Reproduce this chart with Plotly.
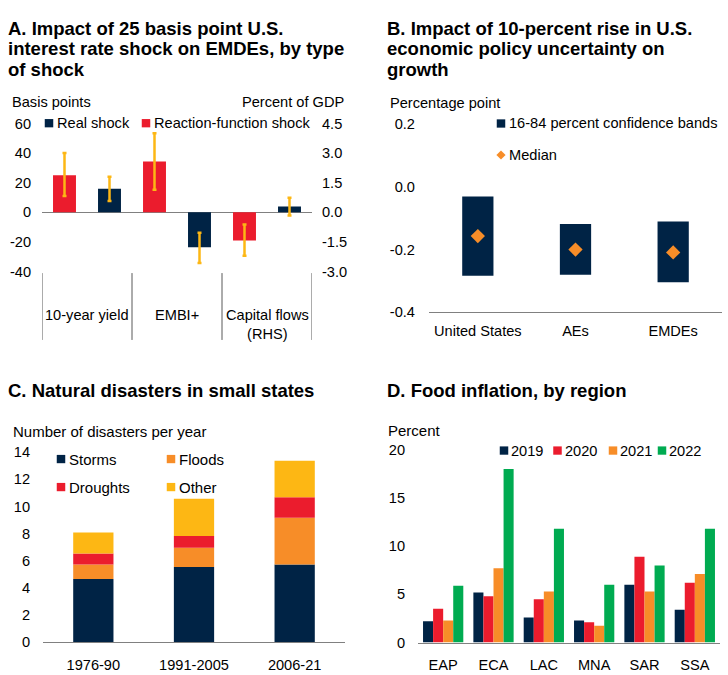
import numpy as np
import plotly.graph_objects as go

W, H = 728, 675
FONT = "Liberation Sans, Arial, sans-serif"
NAVY = "#002345"
RED = "#EB1C2D"
ORANGE = "#F78D28"
YELLOW = "#FDB714"
GREEN = "#00AB51"
GRAY = "#808080"
TXT = "#000000"
FS = 14.6


def px(x):
    return x / W


def py(y):
    return 1 - y / H


# ---------------- Panel A data ----------------
shock_categories = ["10-year yield", "EMBI+", "Capital flows<br>(RHS)"]
reaction_shock = [25.0, 34.4, -1.42]
reaction_hi = [40.0, 53.4, -0.61]
reaction_lo = [11.0, 15.2, -2.20]
real_shock = [16.0, -23.6, 0.30]
real_hi = [24.0, -13.7, 0.74]
real_lo = [7.7, -34.2, -0.16]
a_left_ticks = [60, 40, 20, 0, -20, -40]
a_left_text = ["60", "40", "20", "0", "-20", "-40"]
a_right_ticks = [4.5, 3.0, 1.5, 0.0, -1.5, -3.0]
a_right_text = ["4.5", "3.0", "1.5", "0.0", "-1.5", "-3.0"]

# ---------------- Panel B data ----------------
unc_groups = ["United States", "AEs", "EMDEs"]
band_hi = [-0.031, -0.118, -0.110]
band_lo = [-0.283, -0.280, -0.304]
unc_median = [-0.157, -0.200, -0.209]
b_ticks = [0.2, 0.0, -0.2, -0.4]
b_text = ["0.2", "0.0", "-0.2", "-0.4"]

# ---------------- Panel C data ----------------
periods = ["1976-90", "1991-2005", "2006-21"]
storms = [4.65, 5.52, 5.71]
floods = [1.06, 1.42, 3.46]
droughts = [0.82, 0.88, 1.51]
other = [1.54, 2.74, 2.69]

# ---------------- Panel D data ----------------
food_regions = ["EAP", "ECA", "LAC", "MNA", "SAR", "SSA"]
food_years = ["2019", "2020", "2021", "2022"]
food_2019 = [2.2, 5.2, 2.6, 2.3, 6.0, 3.4]
food_2020 = [3.5, 4.8, 4.5, 2.1, 8.9, 6.2]
food_2021 = [2.3, 7.7, 5.3, 1.75, 5.3, 7.1]
food_2022 = [5.9, 18.0, 11.8, 6.0, 8.0, 11.8]

fig = go.Figure()

# ---- Panel A bars: reaction-function shock at even slots, real shock at odd slots
bw_a = 0.51
for i, cat in enumerate(shock_categories):
    yax = "y" if i < 2 else "y2"
    fig.add_trace(go.Bar(
        x=[2 * i], y=[reaction_shock[i]], xaxis="x", yaxis=yax,
        width=bw_a, offset=-bw_a / 2, marker_color=RED, marker_line_width=0,
        error_y=dict(type="data", symmetric=False,
                     array=[reaction_hi[i] - reaction_shock[i]],
                     arrayminus=[reaction_shock[i] - reaction_lo[i]],
                     color=YELLOW, thickness=2.5, width=2),
        showlegend=False, hoverinfo="skip"))
    fig.add_trace(go.Bar(
        x=[2 * i + 1], y=[real_shock[i]], xaxis="x", yaxis=yax,
        width=bw_a, offset=-bw_a / 2, marker_color=NAVY, marker_line_width=0,
        error_y=dict(type="data", symmetric=False,
                     array=[real_hi[i] - real_shock[i]],
                     arrayminus=[real_shock[i] - real_lo[i]],
                     color=YELLOW, thickness=2.5, width=2),
        showlegend=False, hoverinfo="skip"))

# ---- Panel B floating bands and medians
bw_b = 0.32
fig.add_trace(go.Bar(
    x=unc_groups, y=list(np.array(band_hi) - np.array(band_lo)), base=band_lo,
    xaxis="x2", yaxis="y3", width=bw_b, offset=-bw_b / 2,
    marker_color=NAVY, marker_line_width=0, showlegend=False, hoverinfo="skip"))
fig.add_trace(go.Scatter(
    x=unc_groups, y=unc_median, xaxis="x2", yaxis="y3", mode="markers",
    marker=dict(symbol="diamond", size=11, color=ORANGE, line_width=0),
    showlegend=False, hoverinfo="skip"))

# ---- Panel C stacked bars
bw_c = 0.40
c_series = [storms, floods, droughts, other]
c_colors = [NAVY, ORANGE, RED, YELLOW]
c_base = np.zeros(len(periods))
for vals, col in zip(c_series, c_colors):
    fig.add_trace(go.Bar(
        x=periods, y=vals, base=list(c_base), xaxis="x3", yaxis="y4",
        width=bw_c, offset=-bw_c / 2, offsetgroup="c",
        marker_color=col, marker_line_width=0, showlegend=False, hoverinfo="skip"))
    c_base = c_base + np.array(vals)

# ---- Panel D grouped bars
d_series = [food_2019, food_2020, food_2021, food_2022]
d_colors = [NAVY, RED, ORANGE, GREEN]
bw_d = 0.2
for k, (vals, col) in enumerate(zip(d_series, d_colors)):
    fig.add_trace(go.Bar(
        x=food_regions, y=vals, xaxis="x4", yaxis="y5",
        width=bw_d, offset=-0.4 + k * bw_d, offsetgroup=f"d{k}",
        marker_color=col, marker_line_width=0, showlegend=False, hoverinfo="skip"))

tickfont = dict(family=FONT, size=FS, color=TXT)

fig.update_layout(
    width=W, height=H, margin=dict(l=0, r=0, t=0, b=0),
    paper_bgcolor="white", plot_bgcolor="rgba(0,0,0,0)",
    font=dict(family=FONT, size=FS, color=TXT),
    barmode="group",
    xaxis=dict(domain=[px(42), px(312)], range=[-0.5, 5.5], anchor="y",
               showticklabels=False, ticks="", showgrid=False, zeroline=False),
    yaxis=dict(domain=[py(270), py(118.3)], range=[-40, 60], anchor="x",
               tickvals=a_left_ticks, ticktext=a_left_text, tickfont=tickfont,
               ticks="", showgrid=False, zeroline=True, zerolinecolor=GRAY,
               zerolinewidth=1.3, ticklabelstandoff=10),
    yaxis2=dict(overlaying="y", side="right", anchor="x", range=[-3, 4.5],
                tickvals=a_right_ticks, ticktext=a_right_text, tickfont=tickfont,
                ticks="", showgrid=False, zeroline=False, ticklabelstandoff=9),
    xaxis2=dict(domain=[px(429), px(722)], range=[-0.5, 2.5], anchor="y3",
                tickfont=tickfont, ticks="", showgrid=False, zeroline=False,
                showline=True, linecolor=GRAY, linewidth=1.3, ticklabelstandoff=5),
    yaxis3=dict(domain=[py(311.7), py(119)], range=[-0.4, 0.2], anchor="x2",
                tickvals=b_ticks, ticktext=b_text, tickfont=tickfont,
                ticks="", showgrid=False, zeroline=False, ticklabelstandoff=13),
    xaxis3=dict(domain=[px(43), px(345)], range=[-0.5, 2.5], anchor="y4",
                tickfont=tickfont, ticks="", showgrid=False, zeroline=False,
                showline=True, linecolor=GRAY, linewidth=1.3, ticklabelstandoff=9),
    yaxis4=dict(domain=[py(649.3), py(455)], range=[0, 14], dtick=2, anchor="x3",
                tickfont=tickfont, ticks="", showgrid=False, zeroline=False,
                ticklabelstandoff=12),
    xaxis4=dict(domain=[px(418), px(720)], range=[-0.5, 5.5], anchor="y5",
                tickfont=tickfont, ticks="", showgrid=False, zeroline=False,
                showline=True, linecolor=GRAY, linewidth=1.3, ticklabelstandoff=9),
    yaxis5=dict(domain=[py(650), py(452.3)], range=[0, 20], dtick=5, anchor="x4",
                tickfont=tickfont, ticks="", showgrid=False, zeroline=False,
                ticklabelstandoff=12),
)

annotations = []
shapes = []


def text(x, y, s, size=FS, bold=False, anchor="left"):
    annotations.append(dict(
        x=px(x), y=py(y), xref="paper", yref="paper", text=f"<b>{s}</b>" if bold else s,
        showarrow=False, xanchor=anchor, yanchor="middle", borderpad=0,
        font=dict(family=FONT, size=size, color=TXT)))


def square(cx, cy, color, s=8.5):
    shapes.append(dict(type="rect", xref="paper", yref="paper",
                       x0=px(cx - s / 2), x1=px(cx + s / 2),
                       y0=py(cy + s / 2), y1=py(cy - s / 2),
                       fillcolor=color, line_width=0))


# Titles
TS = 18.5
for i, line in enumerate(["A. Impact of 25 basis point U.S.",
                          "interest rate shock on EMDEs, by type",
                          "of shock"]):
    text(7, 20.5 + i * 21, line, size=TS, bold=True)
for i, line in enumerate(["B. Impact of 10-percent rise in U.S.",
                          "economic policy uncertainty on",
                          "growth"]):
    text(386, 20.5 + i * 21, line, size=TS, bold=True)
text(7, 392, "C. Natural disasters in small states", size=TS, bold=True)
text(386, 392, "D. Food inflation, by region", size=TS, bold=True)

# Panel A labels, legend and category dividers
text(11, 96, "Basis points")
text(345, 96, "Percent of GDP", anchor="right")
square(49, 118, NAVY)
text(56, 118, "Real shock")
square(146, 118, RED)
text(152.5, 118, "Reaction-function shock")
for xv in [-0.5, 1.5, 3.5, 5.5]:
    shapes.append(dict(type="line", xref="x", yref="paper", x0=xv, x1=xv,
                       y0=py(340), y1=py(271.5), line=dict(color="#595959", width=1)))
for i, cat in enumerate(shock_categories):
    annotations.append(dict(
        x=2 * i + 0.5, y=py(305), xref="x", yref="paper", text=cat,
        showarrow=False, xanchor="center", yanchor="top", borderpad=0,
        font=dict(family=FONT, size=FS, color=TXT)))

# Panel B labels and legend
text(389, 97, "Percentage point")
square(501, 118.3, NAVY)
text(508, 118.3, "16-84 percent confidence bands")
dx, dy = 4.6, 4.6
cx, cy = 501, 150.5
shapes.append(dict(type="path", xref="paper", yref="paper",
                   path=f"M {px(cx - dx)},{py(cy)} L {px(cx)},{py(cy - dy)} "
                        f"L {px(cx + dx)},{py(cy)} L {px(cx)},{py(cy + dy)} Z",
                   fillcolor=ORANGE, line_width=0))
text(508, 150.5, "Median")

# Panel C labels and legend
text(12, 434, "Number of disasters per year", size=15)
for (lx, ly), name, col in zip([(61, 462), (171, 462), (61, 490.7), (171, 490.7)],
                               ["Storms", "Floods", "Droughts", "Other"],
                               [NAVY, ORANGE, RED, YELLOW]):
    square(lx, ly, col)
    text(lx + 7, ly, name, size=15)

# Panel D labels and legend
text(387, 433, "Percent", size=15)
for lx, name, col in zip([504, 557.5, 613, 662], food_years, d_colors):
    square(lx, 453.3, col)
    text(lx + 6, 453.3, name)

fig.update_layout(annotations=annotations, shapes=shapes)
fig.write_html("out.html")
